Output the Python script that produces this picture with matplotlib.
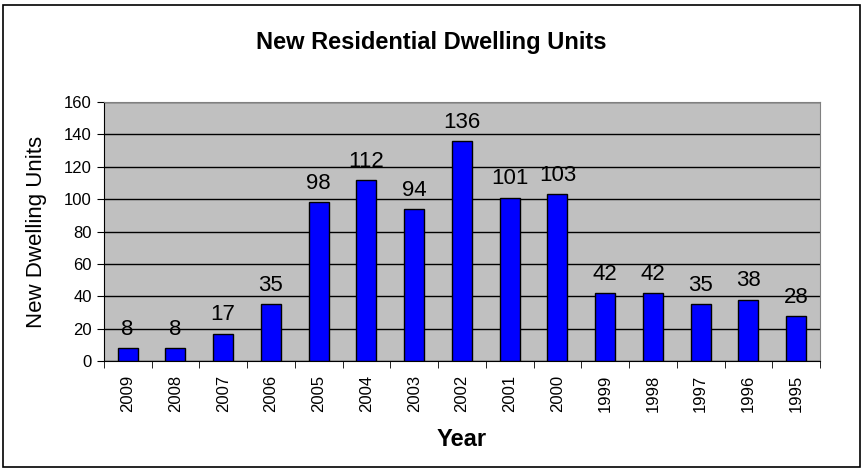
import matplotlib.pyplot as plt
from matplotlib.patches import Rectangle

plt.rcParams['font.family'] = ['Liberation Sans', 'DejaVu Sans']

years = ['2009', '2008', '2007', '2006', '2005', '2004', '2003', '2002',
         '2001', '2000', '1999', '1998', '1997', '1996', '1995']
units = [8, 8, 17, 35, 98, 112, 94, 136, 101, 103, 42, 42, 35, 38, 28]

fig = plt.figure(figsize=(8.65, 4.72), dpi=100)
ax = fig.add_axes([0.120, 0.235, 0.828, 0.549])

# outer chart border
fig.patches.append(Rectangle((0.004, 0.01), 0.99, 0.98, transform=fig.transFigure,
                             fill=False, edgecolor='black', linewidth=1.2))

x = list(range(len(years)))
bars = ax.bar(x, units, width=0.42, color='#0000FF', edgecolor='black', linewidth=1, zorder=3)
for xi, v in zip(x, units):
    ax.text(xi, v + 5, str(v), ha='center', va='bottom', fontsize=16, zorder=4)

ax.set_facecolor('#C0C0C0')
ax.set_xlim(-0.5, len(years) - 0.5)
ax.set_ylim(0, 160)
ax.set_yticks(range(0, 161, 20))
ax.yaxis.grid(True, color='black', linewidth=1)
ax.set_axisbelow(True)

ax.set_xticks(x)
ax.set_xticklabels(years, rotation=90, fontsize=12)
ax.tick_params(axis='x', length=0, pad=10)
ax.set_xticks([i - 0.5 for i in range(len(years) + 1)], minor=True)
ax.tick_params(axis='x', which='minor', length=5, direction='out')
ax.tick_params(axis='y', labelsize=12, length=5)

for s in ax.spines.values():
    s.set_color('#808080')
ax.spines['left'].set_color('black')
ax.spines['bottom'].set_color('black')

ax.set_ylabel('New Dwelling Units', fontsize=16)
ax.yaxis.set_label_coords(-0.080, 0.5)
ax.set_xlabel('Year', fontsize=17, fontweight='bold')
ax.xaxis.set_label_coords(0.5, -0.259)
fig.text(0.498, 0.909, 'New Residential Dwelling Units', ha='center', va='center',
         fontsize=17, fontweight='bold')

fig.savefig('out.png', dpi=100)
